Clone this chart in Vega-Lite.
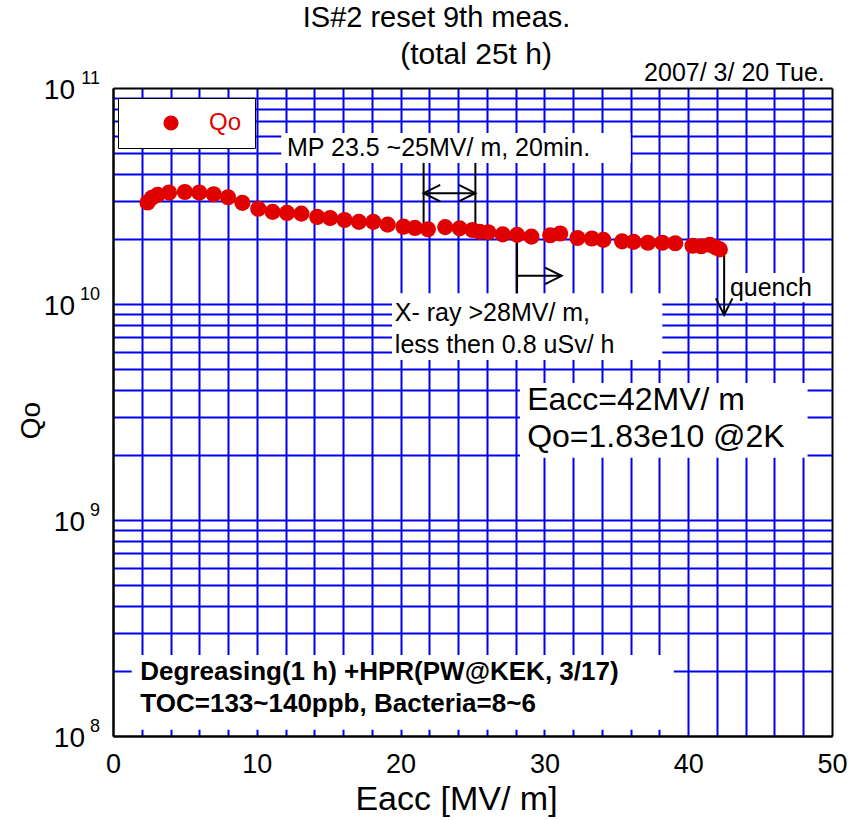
{
  "$schema": "https://vega.github.io/schema/vega-lite/v6.json",
  "width": 719,
  "height": 648,
  "autosize": {"type": "none"},
  "padding": {"left": 113, "top": 88, "right": 29, "bottom": 84},
  "background": "white",
  "config": {"font": "Liberation Sans", "view": {"stroke": null}},
  "encoding": {
    "x": {
      "field": "x", "type": "quantitative",
      "scale": {"domain": [0, 50], "nice": false, "zero": false},
      "axis": {
        "title": "Eacc [MV/ m]",
        "values": [0,2,4,6,8,10,12,14,16,18,20,22,24,26,28,30,32,34,36,38,40,42,44,46,48,50],
        "labelExpr": "datum.value % 10 === 0 ? datum.label : ''",
        "labelFontSize": 27, "labelColor": "black", "labelPadding": 15,
        "labelFlush": false, "labelOverlap": false, "labelBound": false,
        "ticks": false, "tickSize": 0,
        "domainColor": "black", "domainWidth": 2,
        "gridColor": {"condition": {"test": "datum.value === 0 || datum.value === 50", "value": "black"}, "value": "#0000ee"},
        "gridWidth": 2, "gridOpacity": 1,
        "titleFontSize": 34, "titleFontWeight": "normal", "titleColor": "black",
        "titleX": 343, "titleY": 63, "titleAlign": "center", "titleBaseline": "middle",
        "zindex": 0
      }
    },
    "y": {
      "field": "q", "type": "quantitative",
      "scale": {"type": "log", "domain": [1e8, 1e11], "nice": false},
      "axis": {
        "title": "Qo",
        "values": [1e8,2e8,3e8,4e8,5e8,6e8,7e8,8e8,9e8,1e9,2e9,3e9,4e9,5e9,6e9,7e9,8e9,9e9,1e10,2e10,3e10,4e10,5e10,6e10,7e10,8e10,9e10,1e11],
        "labels": false,
        "ticks": false, "tickSize": 0,
        "domainColor": "black", "domainWidth": 2,
        "gridColor": {"condition": {"test": "datum.value === 1e8 || datum.value === 1e11", "value": "black"}, "value": "#0000ee"},
        "gridWidth": 2, "gridOpacity": 1,
        "titleFontSize": 28, "titleFontWeight": "normal", "titleColor": "black",
        "titleX": -82, "titleY": 332, "titleAngle": -90, "titleAlign": "center", "titleBaseline": "middle",
        "zindex": 0
      }
    }
  },
  "layer": [
    {
      "data": {"values": [
        {"x": 11.7, "x2": 36.0, "q": 6.19e10, "q2": 4.5e10},
        {"x": 19.4, "x2": 38.2, "q": 1.12e10, "q2": 5.5e9},
        {"x": 42.6, "x2": 49.0, "q": 1.39e10, "q2": 1.02e10},
        {"x": 28.3, "x2": 48.3, "q": 4.31e9, "q2": 1.94e9},
        {"x": 1.3, "x2": 39.0, "q": 2.37e8, "q2": 1.07e8}
      ]},
      "mark": {"type": "rect", "fill": "white"},
      "encoding": {"x2": {"field": "x2"}, "y2": {"field": "q2"}}
    },
    {
      "data": {"values": [
        {"x": 21.6, "x2": 21.6, "q": 4.5e10, "q2": 2.35e10},
        {"x": 25.2, "x2": 25.2, "q": 4.5e10, "q2": 2.3e10},
        {"x": 21.6, "x2": 25.2, "q": 3.26e10, "q2": 3.26e10},
        {"x": 28.1, "x2": 28.1, "q": 2.15e10, "q2": 1.12e10},
        {"x": 28.1, "x2": 31.2, "q": 1.35e10, "q2": 1.35e10},
        {"x": 42.5, "x2": 42.5, "q": 1.78e10, "q2": 8.9e9}
      ]},
      "mark": {"type": "rule", "color": "black", "strokeWidth": 2},
      "encoding": {"x2": {"field": "x2"}, "y2": {"field": "q2"}}
    },
    {
      "data": {"values": [
        {"x": 21.6, "q": 3.26e10, "d": "left"},
        {"x": 25.2, "q": 3.26e10, "d": "right"},
        {"x": 31.2, "q": 1.35e10, "d": "right"},
        {"x": 42.5, "q": 8.9e9, "d": "down"}
      ]},
      "mark": {"type": "point", "filled": false, "stroke": "black", "strokeWidth": 2, "size": 1100, "opacity": 1},
      "encoding": {
        "shape": {"field": "d", "type": "nominal", "legend": null,
          "scale": {"domain": ["left", "right", "down"],
                    "range": ["M1,-0.5L0,0L1,0.5", "M-1,-0.5L0,0L-1,0.5", "M-0.5,-1L0,0L0.5,-1"]}}
      }
    },
    {
      "data": {"values": [
        {"x": 2.4, "q": 2.95e10, "s": "Qo"},
        {"x": 2.7, "q": 3.1e10, "s": "Qo"},
        {"x": 3.1, "q": 3.2e10, "s": "Qo"},
        {"x": 3.9, "q": 3.28e10, "s": "Qo"},
        {"x": 5.0, "q": 3.3e10, "s": "Qo"},
        {"x": 6.0, "q": 3.28e10, "s": "Qo"},
        {"x": 7.0, "q": 3.22e10, "s": "Qo"},
        {"x": 8.0, "q": 3.12e10, "s": "Qo"},
        {"x": 9.0, "q": 2.94e10, "s": "Qo"},
        {"x": 10.1, "q": 2.76e10, "s": "Qo"},
        {"x": 11.1, "q": 2.67e10, "s": "Qo"},
        {"x": 12.1, "q": 2.64e10, "s": "Qo"},
        {"x": 13.1, "q": 2.62e10, "s": "Qo"},
        {"x": 14.2, "q": 2.53e10, "s": "Qo"},
        {"x": 15.1, "q": 2.5e10, "s": "Qo"},
        {"x": 16.1, "q": 2.45e10, "s": "Qo"},
        {"x": 17.1, "q": 2.4e10, "s": "Qo"},
        {"x": 18.1, "q": 2.4e10, "s": "Qo"},
        {"x": 19.1, "q": 2.33e10, "s": "Qo"},
        {"x": 20.2, "q": 2.28e10, "s": "Qo"},
        {"x": 21.0, "q": 2.25e10, "s": "Qo"},
        {"x": 21.9, "q": 2.22e10, "s": "Qo"},
        {"x": 23.1, "q": 2.27e10, "s": "Qo"},
        {"x": 24.1, "q": 2.24e10, "s": "Qo"},
        {"x": 25.0, "q": 2.2e10, "s": "Qo"},
        {"x": 25.5, "q": 2.16e10, "s": "Qo"},
        {"x": 26.1, "q": 2.15e10, "s": "Qo"},
        {"x": 27.1, "q": 2.1e10, "s": "Qo"},
        {"x": 28.1, "q": 2.09e10, "s": "Qo"},
        {"x": 29.1, "q": 2.05e10, "s": "Qo"},
        {"x": 30.4, "q": 2.08e10, "s": "Qo"},
        {"x": 31.1, "q": 2.12e10, "s": "Qo"},
        {"x": 32.3, "q": 2.02e10, "s": "Qo"},
        {"x": 33.3, "q": 2.01e10, "s": "Qo"},
        {"x": 34.1, "q": 1.98e10, "s": "Qo"},
        {"x": 35.4, "q": 1.95e10, "s": "Qo"},
        {"x": 36.2, "q": 1.94e10, "s": "Qo"},
        {"x": 37.2, "q": 1.92e10, "s": "Qo"},
        {"x": 38.2, "q": 1.92e10, "s": "Qo"},
        {"x": 39.1, "q": 1.91e10, "s": "Qo"},
        {"x": 40.3, "q": 1.86e10, "s": "Qo"},
        {"x": 40.9, "q": 1.85e10, "s": "Qo"},
        {"x": 41.5, "q": 1.88e10, "s": "Qo"},
        {"x": 41.9, "q": 1.83e10, "s": "Qo"},
        {"x": 42.2, "q": 1.79e10, "s": "Qo"}
      ]},
      "mark": {"type": "point", "filled": true, "shape": "circle", "size": 260, "opacity": 1},
      "encoding": {
        "color": {"field": "s", "type": "nominal",
          "scale": {"domain": ["Qo"], "range": ["#e00000"]},
          "legend": {"title": null, "orient": "none", "legendX": 5, "legendY": 10,
            "fillColor": "white", "strokeColor": "black", "padding": 13,
            "symbolOffset": 28, "labelOffset": 26, "labelFontSize": 24, "labelColor": "#e00000",
            "labelFont": "Liberation Sans", "symbolSize": 230, "symbolType": "circle", "symbolStrokeWidth": 0,
            "encode": {"legend": {"update": {"strokeWidth": {"value": 2}}}}}
        }
      }
    },
    {
      "data": {"values": [{"x": 0, "q": 1e11}, {"x": 0, "q": 1e10}]},
      "mark": {"type": "text", "text": "10", "align": "right", "baseline": "middle", "dx": -38, "dy": 3, "fontSize": 28, "color": "black"}
    },
    {
      "data": {"values": [{"x": 0, "q": 1e9}, {"x": 0, "q": 1e8}]},
      "mark": {"type": "text", "text": "10", "align": "right", "baseline": "middle", "dx": -28, "dy": 3, "fontSize": 28, "color": "black"}
    },
    {
      "data": {"values": [
        {"x": 0, "q": 1e11, "t": "11"},
        {"x": 0, "q": 1e10, "t": "10"},
        {"x": 0, "q": 1e9, "t": "9"},
        {"x": 0, "q": 1e8, "t": "8"}
      ]},
      "mark": {"type": "text", "align": "right", "baseline": "middle", "dx": -13, "dy": -9, "fontSize": 18, "color": "black"},
      "encoding": {"text": {"field": "t"}}
    },
    {
      "data": {"values": [
        {"x": 12.1, "q": 5.27e10, "t": "MP 23.5  ~25MV/ m, 20min."},
        {"x": 19.6, "q": 9.08e9, "t": "X- ray >28MV/ m,"},
        {"x": 19.6, "q": 6.45e9, "t": "less then 0.8 uSv/ h"},
        {"x": 42.9, "q": 1.19e10, "t": "quench"}
      ]},
      "mark": {"type": "text", "align": "left", "baseline": "middle", "fontSize": 25, "color": "black"},
      "encoding": {"text": {"field": "t"}}
    },
    {
      "data": {"values": [
        {"x": 49.5, "q": 1.17e11, "t": "2007/ 3/ 20 Tue."}
      ]},
      "mark": {"type": "text", "align": "right", "baseline": "middle", "fontSize": 25, "color": "black"},
      "encoding": {"text": {"field": "t"}}
    },
    {
      "data": {"values": [
        {"x": 28.8, "q": 3.6e9, "t": "Eacc=42MV/ m"},
        {"x": 28.8, "q": 2.43e9, "t": "Qo=1.83e10 @2K"}
      ]},
      "mark": {"type": "text", "align": "left", "baseline": "middle", "fontSize": 32, "color": "black"},
      "encoding": {"text": {"field": "t"}}
    },
    {
      "data": {"values": [
        {"x": 1.9, "q": 1.98e8, "t": "Degreasing(1 h) +HPR(PW@KEK, 3/17)"},
        {"x": 1.9, "q": 1.4e8, "t": "TOC=133~140ppb, Bacteria=8~6"}
      ]},
      "mark": {"type": "text", "align": "left", "baseline": "middle", "fontSize": 26, "fontWeight": "bold", "color": "black"},
      "encoding": {"text": {"field": "t"}}
    },
    {
      "data": {"values": [
        {"x": 22.5, "q": 2.1e11, "t": "IS#2 reset  9th meas."}
      ]},
      "mark": {"type": "text", "align": "center", "baseline": "middle", "fontSize": 29, "color": "black"},
      "encoding": {"text": {"field": "t"}}
    },
    {
      "data": {"values": [
        {"x": 25.25, "q": 1.42e11, "t": "(total  25t h)"}
      ]},
      "mark": {"type": "text", "align": "center", "baseline": "middle", "fontSize": 30, "color": "black"},
      "encoding": {"text": {"field": "t"}}
    }
  ]
}
